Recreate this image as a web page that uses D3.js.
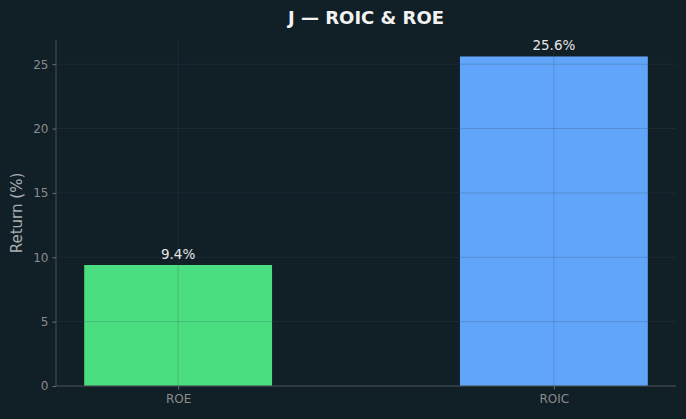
<!DOCTYPE html>
<html>
<head>
<meta charset="utf-8">
<script src="https://cdn.jsdelivr.net/npm/d3@7"></script>
<style>
  html, body { margin: 0; padding: 0; background: #111f26; }
  svg { display: block; font-family: "DejaVu Sans", sans-serif; }
</style>
</head>
<body>
<div id="chart"></div>
<script>
// ROIC & ROE for J
const METRICS = ["ROE", "ROIC"];
const RETURNS = [9.4, 25.6];
const BAR_COLORS = ["#4ade80", "#60a5fa"];
const Y_TICKS = [0, 5, 10, 15, 20, 25];

const W = 686, H = 419;
const M = {top: 40, right: 10, bottom: 33, left: 56};
const innerW = W - M.left - M.right;
const innerH = H - M.top - M.bottom;

const svg = d3.select("#chart").append("svg")
    .attr("width", W).attr("height", H);
svg.append("rect").attr("width", W).attr("height", H).attr("fill", "#111f26");

const plot = svg.append("g").attr("transform", `translate(${M.left},${M.top})`);

// bars are 0.5 wide on integer positions, with matplotlib-style 5% margins
const x = d3.scaleLinear().domain([-0.325, METRICS.length - 1 + 0.325]).range([0, innerW]);
const y = d3.scaleLinear().domain([0, d3.max(RETURNS) * 1.05]).range([innerH, 0]);
const barW = x(0.5) - x(0);

// bars
plot.selectAll("rect.bar").data(RETURNS).join("rect")
    .attr("class", "bar")
    .attr("x", (d, i) => x(i) - barW / 2)
    .attr("y", d => y(d))
    .attr("width", barW)
    .attr("height", d => y(0) - y(d))
    .attr("fill", (d, i) => BAR_COLORS[i]);

// grid (drawn over bars, like the original)
const grid = plot.append("g").attr("stroke", "rgba(55,80,90,0.32)").attr("stroke-width", 0.8);
grid.selectAll("line.h").data(Y_TICKS).join("line")
    .attr("x1", 0).attr("x2", innerW)
    .attr("y1", d => y(d)).attr("y2", d => y(d));
grid.selectAll("line.v").data(METRICS).join("line")
    .attr("x1", (d, i) => x(i)).attr("x2", (d, i) => x(i))
    .attr("y1", 0).attr("y2", innerH);

// value labels
plot.selectAll("text.val").data(RETURNS).join("text")
    .attr("class", "val")
    .attr("x", (d, i) => x(i))
    .attr("y", d => y(d) - 6)
    .attr("text-anchor", "middle")
    .attr("fill", "#e6e6e6")
    .attr("font-size", 13.5)
    .text(d => d.toFixed(1) + "%");

// axes
const yAxis = plot.append("g")
    .call(d3.axisLeft(y).tickValues(Y_TICKS).tickSize(3.5).tickPadding(4));
const xAxis = plot.append("g").attr("transform", `translate(0,${innerH})`)
    .call(d3.axisBottom(x).tickValues(METRICS.map((d, i) => i))
      .tickFormat(i => METRICS[i]).tickSize(3.5).tickPadding(5));
[yAxis, xAxis].forEach(a => {
  a.select(".domain").attr("stroke", "#4a4f54");
  a.selectAll(".tick line").attr("stroke", "#6b7075");
  a.selectAll(".tick text").attr("fill", "#8c8c8c").attr("font-size", 12)
      .attr("font-family", "DejaVu Sans, sans-serif");
});
yAxis.select(".domain").attr("d", `M0,${innerH}V0`);
xAxis.select(".domain").attr("d", `M0,0H${innerW}`);

// y label
svg.append("text")
    .attr("transform", `translate(22,${M.top + innerH / 2}) rotate(-90)`)
    .attr("text-anchor", "middle")
    .attr("fill", "#a9aeb3")
    .attr("font-size", 15)
    .text("Return (%)");

// title
svg.append("text")
    .attr("x", M.left + innerW / 2).attr("y", 24)
    .attr("text-anchor", "middle")
    .attr("fill", "#f2f2f2")
    .attr("font-size", 18)
    .attr("font-weight", "bold")
    .text("J — ROIC & ROE");
</script>
</body>
</html>
